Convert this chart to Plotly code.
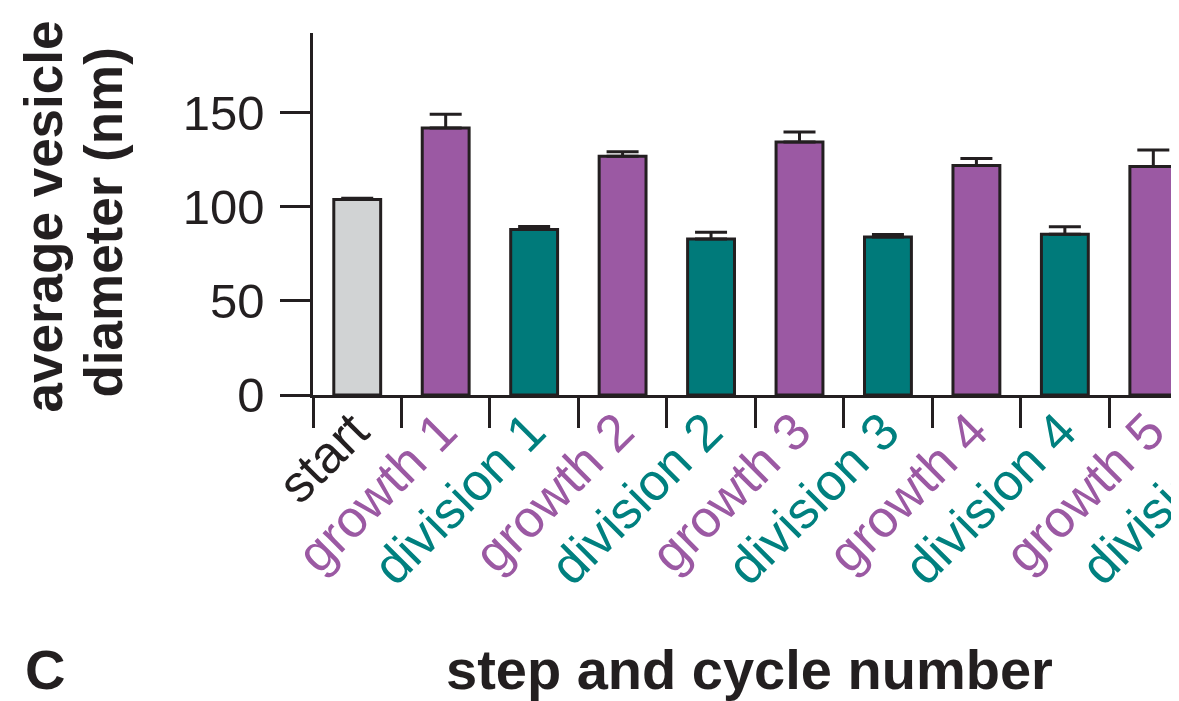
import plotly.graph_objects as go

categories = ["start", "growth 1", "division 1", "growth 2", "division 2", "growth 3",
              "division 3", "growth 4", "division 4", "growth 5", "division 5"]
diameters = [104, 142, 88, 127, 83, 134.5, 84, 122, 85.5, 121.5, 86]
errors_up = [0.6, 7.3, 1.6, 2.3, 3.6, 5.3, 1.3, 3.8, 4.0, 8.8, 3.0]
steps = ["start", "growth", "division", "growth", "division", "growth",
         "division", "growth", "division", "growth", "division"]
y_ticks = [0, 50, 100, 150]

fill_colors = {"start": "#d1d3d4", "growth": "#9b59a3", "division": "#007a7a"}
text_colors = {"start": "#231f20", "growth": "#9b59a3", "division": "#00807f"}
DARK = "#231f20"
FONT = "Liberation Sans, Arial, Helvetica, sans-serif"

fig = go.Figure()
fig.add_trace(go.Bar(
    x=categories,
    y=diameters,
    width=0.53,
    marker=dict(color=[fill_colors[s] for s in steps],
                line=dict(color=DARK, width=3)),
    error_y=dict(type="data", symmetric=False, array=errors_up,
                 arrayminus=[0] * len(errors_up),
                 color=DARK, thickness=3, width=16),
    showlegend=False,
))

ticktext = [f"<span style='color:{text_colors[s]}'>{c}</span>" for c, s in zip(categories, steps)]

fig.update_layout(
    width=1278, height=693,
    margin=dict(l=305, r=0, t=25, b=306),
    paper_bgcolor="white", plot_bgcolor="white",
    font=dict(family=FONT, color=DARK),
    bargap=0.47,
    xaxis=dict(
        type="category",
        range=[-0.5, 10.5],
        tickmode="array", tickvals=categories, ticktext=ticktext,
        tickson="boundaries",
        ticks="outside", ticklen=30, tickwidth=2.5, tickcolor=DARK,
        tickangle=-45,
        tickfont=dict(size=52, family=FONT),
        ticklabelstandoff=-18,
        ticklabelshift=-4,
        showline=True, linecolor=DARK, linewidth=2.5,
        showgrid=False, zeroline=False,
    ),
    yaxis=dict(
        range=[0, 192.5],
        tickmode="array", tickvals=y_ticks,
        ticks="outside", ticklen=30, tickwidth=2.5, tickcolor=DARK,
        tickfont=dict(size=49, family=FONT),
        ticklabelstandoff=6,
        showline=True, linecolor=DARK, linewidth=2.5,
        showgrid=False, zeroline=False,
    ),
    annotations=[
        dict(text="<b>average vesicle</b>", xref="paper", yref="paper",
             x=-0.276, y=0.4945, xanchor="center", yanchor="middle",
             textangle=-90, showarrow=False, font=dict(size=53, family=FONT, color=DARK)),
        dict(text="<b>diameter (nm)</b>", xref="paper", yref="paper",
             x=-0.2153, y=0.475, xanchor="center", yanchor="middle",
             textangle=-90, showarrow=False, font=dict(size=53, family=FONT, color=DARK)),
        dict(text="<b>step and cycle number</b>", xref="paper", yref="paper",
             x=0.4491, y=-0.757, xanchor="center", yanchor="middle",
             showarrow=False, font=dict(size=56, family=FONT, color=DARK)),
        dict(text="<b>C</b>", xref="paper", yref="paper",
             x=-0.298, y=-0.757, xanchor="left", yanchor="middle",
             showarrow=False, font=dict(size=56, family=FONT, color=DARK)),
    ],
)

fig.write_html(
    "out.html",
    post_script="document.documentElement.style.overflow='hidden';document.body.style.overflow='hidden';",
)
